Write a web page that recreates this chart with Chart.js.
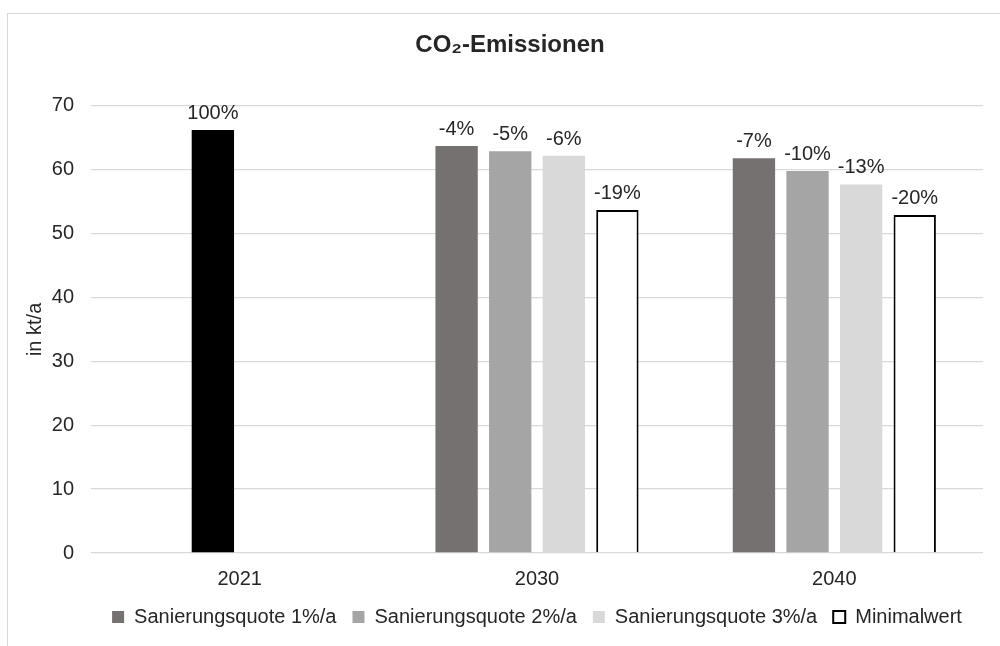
<!DOCTYPE html>
<html lang="de">
<head>
<meta charset="utf-8">
<title>CO2-Emissionen</title>
<script src="https://cdn.jsdelivr.net/npm/chart.js@4.4.1/dist/chart.umd.min.js"></script>
<style>
  html, body { margin: 0; padding: 0; background: #fff; }
  #wrap { width: 1000px; height: 646px; position: relative; }
</style>
</head>
<body>
<div id="wrap"><canvas id="co2Chart"></canvas></div>
<script>
// Werte in kt/a
const years = ['2021', '2030', '2040']
const quote1 = [null, 63.7, 61.8]
const quote2 = [66.2, 62.9, 59.8] // 2021 = Ausgangswert (schwarzer Balken)
const quote3 = [null, 62.2, 57.7]
const minimal = [null, 53.7, 52.9]

// Beschriftungen über den Balken (Veränderung ggü. 2021)
const quote1Labels = ['', '-4%', '-7%']
const quote2Labels = ['100%', '-5%', '-10%']
const quote3Labels = ['', '-6%', '-13%']
const minimalLabels = ['', '-19%', '-20%']

const yTicks = [0, 10, 20, 30, 40, 50, 60, 70]

const seriesNames = ['Sanierungsquote 1%/a', 'Sanierungsquote 2%/a', 'Sanierungsquote 3%/a', 'Minimalwert']
const seriesColors = ['#767171', '#a5a5a5', '#d9d9d9', '#ffffff']
const baseColor = '#000000'
const textColor = '#262626'
const fontFamily = '"Liberation Sans", Arial, Helvetica, sans-serif'

Chart.defaults.font.family = fontFamily
Chart.defaults.font.size = 20
Chart.defaults.color = textColor

const allLabels = [quote1Labels, quote2Labels, quote3Labels, minimalLabels]

// weißer Hintergrund + grauer Rahmen wie im Excel-Diagramm
const frame = {
  id: 'frame',
  beforeDraw(chart) {
    const { ctx, width, height } = chart
    ctx.save()
    ctx.fillStyle = '#ffffff'
    ctx.fillRect(0, 0, width, height)
    ctx.strokeStyle = '#d9d9d9'
    ctx.lineWidth = 1
    ctx.strokeRect(7.5, 13.5, width + 20, height + 20)
    ctx.restore()
  },
}

// Prozentwerte über den Balken
const barLabels = {
  id: 'barLabels',
  afterDatasetsDraw(chart) {
    const { ctx } = chart
    ctx.save()
    ctx.font = '20px ' + fontFamily
    ctx.fillStyle = textColor
    ctx.textAlign = 'center'
    ctx.textBaseline = 'alphabetic'
    chart.data.datasets.forEach((ds, i) => {
      const meta = chart.getDatasetMeta(i)
      meta.data.forEach((bar, j) => {
        const text = allLabels[i][j]
        if (ds.data[j] == null || !text) return
        ctx.fillText(text, bar.x, bar.y - 11)
      })
    })
    ctx.restore()
  },
}

const ctx = document.getElementById('co2Chart').getContext('2d')
const co2Chart = new Chart(ctx, {
  type: 'bar',
  data: {
    labels: years,
    datasets: [
      {
        label: seriesNames[0],
        data: quote1,
        backgroundColor: seriesColors[0],
        borderWidth: 0,
      },
      {
        label: seriesNames[1],
        data: quote2,
        backgroundColor: (c) => (c.dataIndex === 0 ? baseColor : seriesColors[1]),
        borderWidth: 0,
      },
      {
        label: seriesNames[2],
        data: quote3,
        backgroundColor: seriesColors[2],
        borderWidth: 0,
      },
      {
        label: seriesNames[3],
        data: minimal,
        backgroundColor: seriesColors[3],
        borderColor: '#000000',
        borderWidth: 2,
      },
    ],
  },
  options: {
    responsive: true,
    maintainAspectRatio: false,
    devicePixelRatio: 1,
    animation: false,
    categoryPercentage: 0.721,
    barPercentage: 0.79,
    layout: {
      padding: { left: 37, right: 17, top: 0, bottom: 9 },
    },
    plugins: {
      title: {
        display: true,
        text: 'CO₂-Emissionen',
        color: textColor,
        font: { size: 24, weight: 'bold' },
        padding: { top: 31, bottom: 46 },
      },
      legend: {
        position: 'bottom',
        fullSize: false,
        labels: {
          boxWidth: 12,
          boxHeight: 12,
          padding: 16,
          color: textColor,
          font: { size: 20 },
          generateLabels(chart) {
            const items = Chart.defaults.plugins.legend.labels.generateLabels(chart)
            items.forEach((item) => {
              item.fillStyle = seriesColors[item.datasetIndex]
            })
            return items
          },
        },
      },
      tooltip: { enabled: false },
    },
    scales: {
      x: {
        grid: { display: false, drawTicks: false },
        border: { display: false },
        ticks: { padding: 14, color: textColor, font: { size: 20 } },
        afterFit(scale) {
          scale.height = 38
        },
      },
      y: {
        min: 0,
        max: 70,
        afterBuildTicks(scale) {
          scale.ticks = yTicks.map((v) => ({ value: v }))
        },
        afterFit(scale) {
          scale.width = 54
        },
        grid: { color: '#d9d9d9', lineWidth: 1.3, drawTicks: false },
        border: { display: false },
        ticks: { padding: 17, color: textColor, font: { size: 20 } },
        title: {
          display: true,
          text: 'in kt/a',
          color: textColor,
          font: { size: 20 },
          padding: { top: -14, bottom: 0 },
        },
      },
    },
  },
  plugins: [frame, barLabels],
})
</script>
</body>
</html>
